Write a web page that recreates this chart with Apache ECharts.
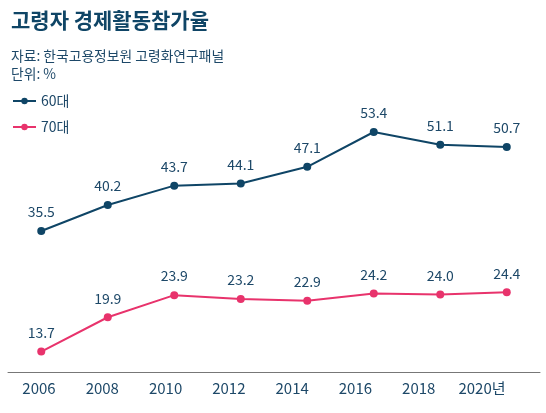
<!DOCTYPE html>
<html><head><meta charset="utf-8">
<script src="https://cdn.jsdelivr.net/npm/echarts@6/dist/echarts.min.js"></script>
<style>html,body{margin:0;padding:0;background:#fff}#c{width:546px;height:413px}</style>
</head><body><div id="c"></div>
<script>
const years = ['2006','2008','2010','2012','2014','2016','2018','2020'];
const yearLabels = ['2006','2008','2010','2012','2014','2016','2018','2020년'];
const s60 = [35.5, 40.2, 43.7, 44.1, 47.1, 53.4, 51.1, 50.7];
const s70 = [13.7, 19.9, 23.9, 23.2, 22.9, 24.2, 24.0, 24.4];
const NAVY = '#0f4566';
const PINK = '#e8336c';
const TXT = '#1d4868';
const FF = '"Noto Sans CJK KR", sans-serif';
const chart = echarts.init(document.getElementById('c'));
chart.setOption({
  animation: false,
  textStyle: {fontFamily: FF},
  title: [
    {text: '고령자 경제활동참가율', left: 6, top: 5, textStyle: {fontFamily: FF, fontSize: 21, fontWeight: 'bold', color: NAVY}},
    {text: '자료: 한국고용정보원 고령화연구패널\n단위: %', left: 6, top: 42, textStyle: {fontFamily: FF, fontSize: 13.8, fontWeight: 'normal', color: TXT, lineHeight: 18}}
  ],
  legend: {
    orient: 'vertical', left: 7, top: 88, itemWidth: 23, itemHeight: 8, itemGap: 10,
    textStyle: {fontFamily: FF, fontSize: 14, color: TXT, lineHeight: 16},
    data: ['60대', '70대']
  },
  grid: [
    {left: 8, right: 6, top: 95.5, bottom: 41},
    {left: 39, right: 64, top: 95.5, bottom: 41}
  ],
  xAxis: [
    {type: 'category', data: years, gridIndex: 0, boundaryGap: true,
     axisLine: {lineStyle: {color: '#777', width: 1}}, axisTick: {show: false}, axisLabel: {show: false}},
    {type: 'category', data: yearLabels, gridIndex: 1, boundaryGap: false,
     axisLine: {show: false}, axisTick: {show: false},
     axisLabel: {fontFamily: FF, fontSize: 15, color: TXT, margin: 9}}
  ],
  yAxis: [
    {type: 'value', min: 10, max: 60, gridIndex: 0, show: false},
    {type: 'value', min: 10, max: 60, gridIndex: 1, show: false}
  ],
  series: [
    {name: '60대', type: 'line', data: s60, xAxisIndex: 0, yAxisIndex: 0,
     symbol: 'circle', symbolSize: 8, lineStyle: {color: NAVY, width: 2}, itemStyle: {color: NAVY},
     label: {show: true, position: 'top', distance: 8, fontFamily: FF, fontSize: 14, color: TXT, formatter: p => p.value.toFixed(1)}},
    {name: '70대', type: 'line', data: s70, xAxisIndex: 0, yAxisIndex: 0,
     symbol: 'circle', symbolSize: 8, lineStyle: {color: PINK, width: 2}, itemStyle: {color: PINK},
     label: {show: true, position: 'top', distance: 8, fontFamily: FF, fontSize: 14, color: TXT, formatter: p => p.value.toFixed(1)}}
  ]
});
</script></body></html>
